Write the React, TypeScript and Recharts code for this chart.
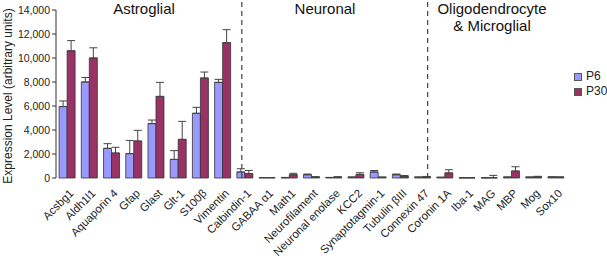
import React from 'react';
import {
  BarChart,
  Bar,
  XAxis,
  YAxis,
  ErrorBar,
  ReferenceLine,
} from 'recharts';

const genes = [
  'Acsbg1', 'Aldh1l1', 'Aquaporin 4', 'Gfap', 'Glast', 'Glt-1', 'S100β', 'Vimentin',
  'Calbindin-1', 'GABAA α1', 'Math1', 'Neurofilament', 'Neuronal enolase', 'KCC2',
  'Synaptotagmin-1', 'Tubulin βIII',
  'Connexin 47', 'Coronin 1A', 'Iba-1', 'MAG', 'MBP', 'Mog', 'Sox10',
];

const p6 = [
  5950, 8000, 2470, 2030, 4530, 1550, 5390, 7970,
  500, 30, 30, 270, 40, 60, 500, 270,
  60, 50, 20, 20, 60, 60, 80,
];
const p30 = [
  10600, 10000, 2080, 3080, 6800, 3220, 8330, 11280,
  370, 30, 270, 80, 80, 300, 60, 160,
  90, 420, 20, 20, 580, 100, 70,
];
const p6Err = [
  470, 380, 390, 1100, 300, 730, 500, 250,
  270, 10, 20, 60, 10, 30, 120, 60,
  30, 20, 10, 10, 30, 30, 20,
];
const p30Err = [
  850, 850, 480, 890, 1170, 1500, 500, 1080,
  260, 10, 120, 30, 20, 140, 20, 40,
  40, 270, 10, 200, 360, 40, 20,
];

const yTicks = [0, 2000, 4000, 6000, 8000, 10000, 12000, 14000];
const boundaryTicks = Array.from({ length: genes.length + 1 }, (_, i) => i);
const sectionBreaks = [8, 16];

const data = genes.map((gene, i) => ({
  gene,
  p6: p6[i],
  p30: p30[i],
  p6Err: [0, p6Err[i]],
  p30Err: [0, p30Err[i]],
}));

const FONT = '"Liberation Sans", Arial, sans-serif';

const GeneTick = (props: any) => {
  const { x, y, payload } = props;
  const ax = x + 7;
  const ay = y + 8;
  return (
    <text
      x={ax}
      y={ay}
      transform={`rotate(-45 ${ax} ${ay})`}
      textAnchor="end"
      fontSize={11.3}
      fontFamily={FONT}
      fill="#222"
    >
      {payload.value}
    </text>
  );
};

const titleStyle: React.CSSProperties = {
  position: 'absolute',
  fontFamily: FONT,
  fontSize: 15,
  color: '#111',
  textAlign: 'center',
  lineHeight: '17px',
  whiteSpace: 'nowrap',
  transform: 'translateX(-50%)',
};

const swatch = (color: string): React.CSSProperties => ({
  display: 'inline-block',
  width: 6,
  height: 6,
  background: color,
  border: '1px solid #555',
  marginRight: 4,
});

export default function App() {
  return (
    <div style={{ position: 'relative', width: 607, height: 259, background: '#fff' }}>
      <style>{'body{margin:0}'}</style>
      <BarChart
        width={607}
        height={259}
        data={data}
        margin={{ top: 10, right: 40, left: 0, bottom: 0 }}
        barCategoryGap="14%"
        barGap={0}
      >
        <XAxis
          xAxisId="num"
          type="number"
          domain={[0, genes.length]}
          ticks={boundaryTicks}
          allowDataOverflow
          height={0}
          tick={false}
          tickSize={4}
          stroke="#333"
        />
        <XAxis
          xAxisId="cat"
          dataKey="gene"
          interval={0}
          height={81}
          axisLine={false}
          tickLine={false}
          tick={<GeneTick />}
        />
        <YAxis
          width={56}
          domain={[0, 14000]}
          ticks={yTicks}
          tickFormatter={(v: number) => v.toLocaleString('en-US')}
          tick={{ fontSize: 10.5, fontFamily: FONT, fill: '#222' }}
          tickSize={4}
          tickMargin={2}
          stroke="#333"
        />
        {sectionBreaks.map((b) => (
          <ReferenceLine
            key={b}
            xAxisId="num"
            segment={[{ x: b, y: 0 }, { x: b, y: 14800 }]}
            ifOverflow="visible"
            stroke="#444"
            strokeWidth={1.2}
            strokeDasharray="5 4"
          />
        ))}
        <Bar xAxisId="cat" dataKey="p6" fill="#9999FF" stroke="#333" strokeWidth={0.8} isAnimationActive={false}>
          <ErrorBar dataKey="p6Err" direction="y" width={4} stroke="#444" strokeWidth={1} />
        </Bar>
        <Bar xAxisId="cat" dataKey="p30" fill="#993366" stroke="#333" strokeWidth={0.8} isAnimationActive={false}>
          <ErrorBar dataKey="p30Err" direction="y" width={4} stroke="#444" strokeWidth={1} />
        </Bar>
      </BarChart>

      <div style={{ ...titleStyle, left: 144, top: 0 }}>Astroglial</div>
      <div style={{ ...titleStyle, left: 325, top: 0 }}>Neuronal</div>
      <div style={{ ...titleStyle, left: 492, top: 0 }}>
        Oligodendrocyte
        <br />& Microglial
      </div>

      <div
        style={{
          position: 'absolute',
          left: 8,
          top: 96,
          transform: 'translate(-50%, -50%) rotate(-90deg)',
          fontFamily: FONT,
          fontSize: 12,
          color: '#222',
          whiteSpace: 'nowrap',
        }}
      >
        Expression Level (arbitrary units)
      </div>

      <div
        style={{
          position: 'absolute',
          left: 574,
          top: 69,
          fontFamily: FONT,
          fontSize: 12,
          color: '#222',
          lineHeight: '15px',
        }}
      >
        <div style={{ display: 'flex', alignItems: 'center' }}>
          <span style={swatch('#9999FF')} />P6
        </div>
        <div style={{ display: 'flex', alignItems: 'center' }}>
          <span style={swatch('#993366')} />P30
        </div>
      </div>
    </div>
  );
}
